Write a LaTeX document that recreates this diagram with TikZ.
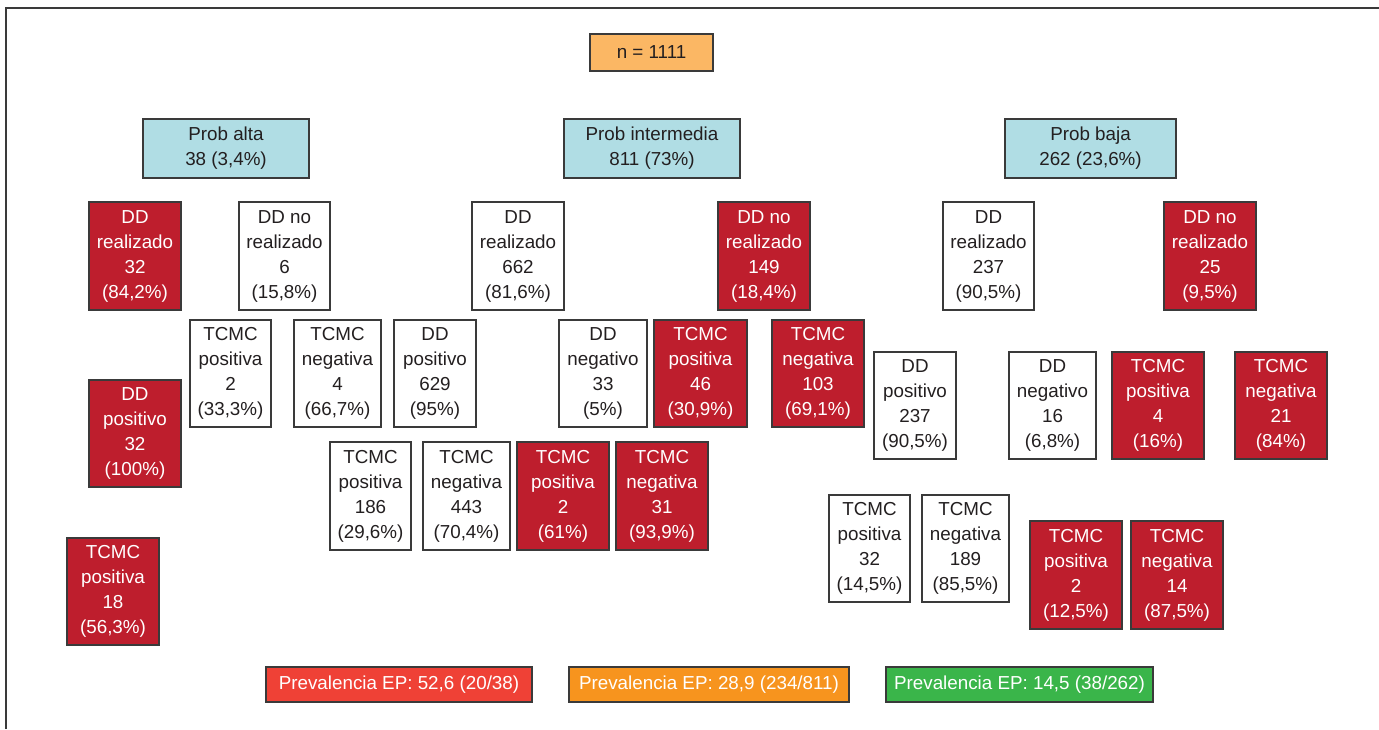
\documentclass[tikz,border=0pt]{standalone}
\usepackage{fontspec}
\setmainfont{Liberation Sans}
\usepackage{tikz}
\usetikzlibrary{positioning}
\definecolor{rojoDD}{HTML}{BE1E2D}
\definecolor{azulProb}{HTML}{B0DDE4}
\definecolor{naranjaN}{HTML}{FBB764}
\definecolor{rojoEP}{HTML}{EF4136}
\definecolor{naranjaEP}{HTML}{F7941E}
\definecolor{verdeEP}{HTML}{3AB54A}
\definecolor{borde}{HTML}{3A3A3A}
\definecolor{texto}{HTML}{231F20}
\tikzset{
  caja/.style 2 args={draw=borde, line width=0.7pt, inner sep=0pt, align=center,
    text=texto, minimum width=#1*0.5pt, minimum height=#2*0.5pt,
    font=\fontsize{9.4}{12.5}\selectfont},
  blanca/.style={fill=white},
  roja/.style={fill=rojoDD, text=white},
  prob/.style={fill=azulProb},
  prev/.style={text=white}
}
\begin{document}
\begin{tikzpicture}[x=0.5pt, y=-0.5pt]
\useasboundingbox (0,0) rectangle (1379,729);
\draw [borde, line width=0.7pt] (6,729) -- (6,8) -- (1379,8);
\node [caja={123}{37}, fill=naranjaN] (total) at (651.5,52.5) {n = 1111};
\node [caja={166}{59}, prob] (alta) at (226,148.5) {Prob alta\\38 (3,4\%)};
\node [caja={176}{59}, prob] (inter) at (652,148.5) {Prob intermedia\\811 (73\%)};
\node [caja={171}{59}, prob] (baja) at (1090.5,148.5) {Prob baja\\262 (23,6\%)};
\node [caja={92}{108}, roja] (altaDDsi) at (135,256) {DD\\realizado\\32\\(84,2\%)};
\node [caja={91}{108}, blanca] (altaDDno) at (284.5,256) {DD no\\realizado\\6\\(15,8\%)};
\node [caja={92}{108}, blanca] (interDDsi) at (518,256) {DD\\realizado\\662\\(81,6\%)};
\node [caja={92}{108}, roja] (interDDno) at (764,256) {DD no\\realizado\\149\\(18,4\%)};
\node [caja={91}{108}, blanca] (bajaDDsi) at (988.5,256) {DD\\realizado\\237\\(90,5\%)};
\node [caja={92}{108}, roja] (bajaDDno) at (1210,256) {DD no\\realizado\\25\\(9,5\%)};
\node [caja={92}{107}, roja] (altaDDpos) at (135,433.5) {DD\\positivo\\32\\(100\%)};
\node [caja={92}{107}, roja] (altaTCpos) at (113,591.5) {TCMC\\positiva\\18\\(56,3\%)};
\node [caja={81}{107}, blanca] (altaNoTCpos) at (230.5,373.5) {TCMC\\positiva\\2\\(33,3\%)};
\node [caja={87}{107}, blanca] (altaNoTCneg) at (337.5,373.5) {TCMC\\negativa\\4\\(66,7\%)};
\node [caja={82}{107}, blanca] (interDDpos) at (435,373.5) {DD\\positivo\\629\\(95\%)};
\node [caja={88}{107}, blanca] (interDDneg) at (603,373.5) {DD\\negativo\\33\\(5\%)};
\node [caja={93}{107}, roja] (interNoTCpos) at (700.5,373.5) {TCMC\\positiva\\46\\(30,9\%)};
\node [caja={92}{107}, roja] (interNoTCneg) at (818,373.5) {TCMC\\negativa\\103\\(69,1\%)};
\node [caja={81}{108}, blanca] (interPosTCpos) at (370.5,496) {TCMC\\positiva\\186\\(29,6\%)};
\node [caja={87}{108}, blanca] (interPosTCneg) at (466.5,496) {TCMC\\negativa\\443\\(70,4\%)};
\node [caja={92}{108}, roja] (interNegTCpos) at (563,496) {TCMC\\positiva\\2\\(61\%)};
\node [caja={92}{108}, roja] (interNegTCneg) at (662,496) {TCMC\\negativa\\31\\(93,9\%)};
\node [caja={82}{107}, blanca] (bajaDDpos) at (915,405.5) {DD\\positivo\\237\\(90,5\%)};
\node [caja={87}{107}, blanca] (bajaDDneg) at (1052.5,405.5) {DD\\negativo\\16\\(6,8\%)};
\node [caja={92}{107}, roja] (bajaNoTCpos) at (1158,405.5) {TCMC\\positiva\\4\\(16\%)};
\node [caja={92}{107}, roja] (bajaNoTCneg) at (1281,405.5) {TCMC\\negativa\\21\\(84\%)};
\node [caja={81}{107}, blanca] (bajaPosTCpos) at (869.5,548.5) {TCMC\\positiva\\32\\(14,5\%)};
\node [caja={87}{107}, blanca] (bajaPosTCneg) at (965.5,548.5) {TCMC\\negativa\\189\\(85,5\%)};
\node [caja={92}{108}, roja] (bajaNegTCpos) at (1076,575) {TCMC\\positiva\\2\\(12,5\%)};
\node [caja={92}{108}, roja] (bajaNegTCneg) at (1177,575) {TCMC\\negativa\\14\\(87,5\%)};
\node [caja={266}{35}, prev, fill=rojoEP] (prevAlta) at (399,684.5) {Prevalencia EP: 52,6 (20/38)};
\node [caja={280}{35}, prev, fill=naranjaEP] (prevInter) at (709,684.5) {Prevalencia EP: 28,9 (234/811)};
\node [caja={267}{35}, prev, fill=verdeEP] (prevBaja) at (1019.5,684.5) {Prevalencia EP: 14,5 (38/262)};
\end{tikzpicture}
\end{document}
